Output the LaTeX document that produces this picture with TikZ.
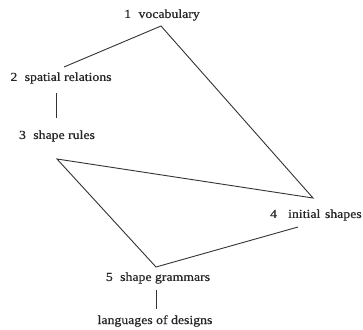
\documentclass[tikz,border=0pt]{standalone}
\usepackage{fontspec}
\setmainfont{Liberation Serif}[FakeStretch=1.12,FakeBold=0.6]
\begin{document}
\begin{tikzpicture}[x=1pt,y=-1pt,
  lbl/.style={inner sep=0pt,font=\fontsize{12.3}{14}\selectfont,text=black!85},
  edge/.style={draw=black!80,line width=0.9pt}]
\useasboundingbox (0,0) rectangle (363,329);
\node[lbl] (n1) at (162,15) {1\hspace{0.6em}vocabulary};
\node[lbl] (n2) at (61,78) {2\hspace{0.6em}spatial relations};
\node[lbl] (n3) at (57,136) {3\hspace{0.6em}shape rules};
\node[lbl,anchor=west] (n4) at (270,215) {4\hspace{0.9em}initial\hspace{0.1em} shapes};
\node[lbl] (n5) at (158,278) {5\hspace{0.6em}shape grammars};
\node[lbl] (n6) at (155,321) {languages of designs};
\coordinate (a) at (161,26);
\coordinate (a2) at (64,67);
\coordinate (b) at (313,198);
\coordinate (c) at (57,159);
\coordinate (d) at (156,267);
\coordinate (b2) at (298,227);
\coordinate (v2a) at (56,93);
\coordinate (v2b) at (56,118);
\coordinate (v5a) at (156,290);
\coordinate (v5b) at (156,309);
\draw[edge] (a2) -- (a) -- (b) -- (c) -- (d) -- (b2);
\draw[edge] (v2a) -- (v2b);
\draw[edge] (v5a) -- (v5b);
\end{tikzpicture}
\end{document}
